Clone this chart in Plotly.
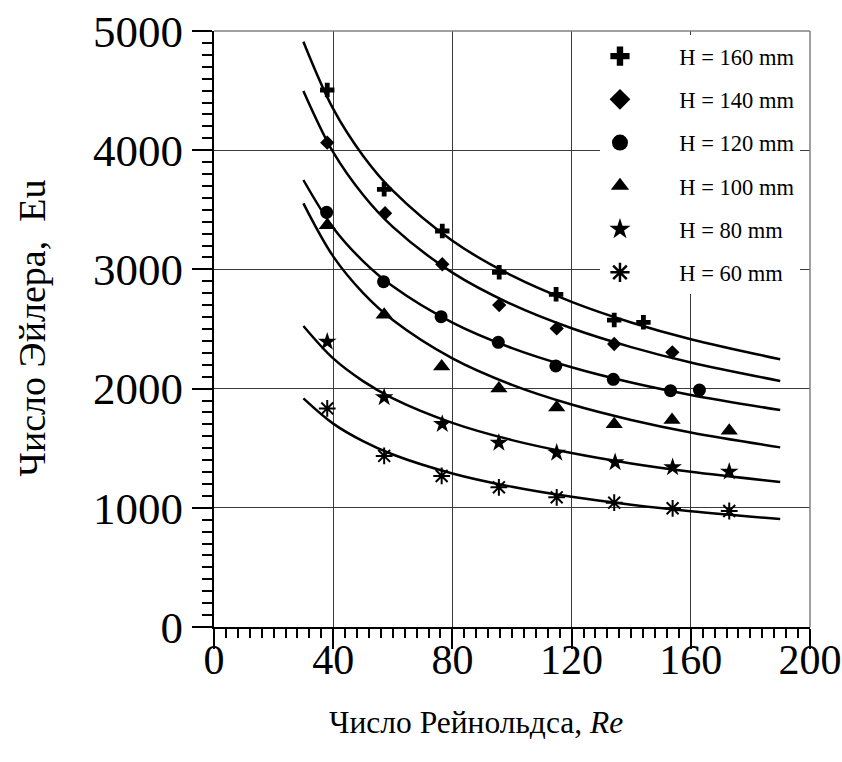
import plotly.graph_objects as go

# Measured points: Reynolds number vs Euler number for each gap height H
re_160 = [38.0, 57.1, 76.6, 95.7, 114.8, 134.3, 144.1]
eu_160 = [4505, 3672, 3322, 2976, 2791, 2575, 2556]

re_140 = [38.0, 57.4, 76.6, 95.7, 115.0, 134.3, 153.8]
eu_140 = [4063, 3471, 3043, 2701, 2505, 2374, 2304]

re_120 = [37.8, 56.9, 76.2, 95.4, 114.7, 134.0, 153.2, 162.9]
eu_120 = [3479, 2897, 2603, 2388, 2190, 2078, 1983, 1988]

re_100 = [38.0, 57.1, 76.4, 95.6, 115.0, 134.3, 153.7, 172.9]
eu_100 = [3370, 2620, 2186, 2000, 1842, 1700, 1736, 1647]

re_80 = [38.0, 57.1, 76.6, 95.6, 115.0, 134.6, 153.9, 172.9]
eu_80 = [2393, 1927, 1703, 1546, 1462, 1381, 1340, 1303]

re_60 = [38.0, 57.1, 76.4, 95.6, 115.0, 134.3, 153.9, 172.9]
eu_60 = [1834, 1435, 1267, 1172, 1088, 1043, 996, 973]

# Approximating curves
fit_re = [30, 40, 50, 60, 80, 100, 120, 140, 160, 190]
fit_160 = [4910, 4346, 3954, 3660, 3240, 2947, 2728, 2555, 2414, 2246]
fit_140 = [4497, 3983, 3626, 3357, 2973, 2706, 2506, 2348, 2219, 2064]
fit_120 = [3750, 3350, 3070, 2858, 2554, 2340, 2179, 2051, 1947, 1820]
fit_100 = [3554, 3109, 2803, 2575, 2253, 2031, 1866, 1737, 1632, 1507]
fit_80 = [2525, 2253, 2063, 1919, 1713, 1568, 1459, 1372, 1302, 1216]
fit_60 = [1918, 1706, 1559, 1447, 1288, 1176, 1092, 1026, 972, 906]

labels = ["H = 160 mm", "H = 140 mm", "H = 120 mm", "H = 100 mm", "H = 80 mm", "H = 60 mm"]
x_ticks = [0, 40, 80, 120, 160, 200]
y_ticks = [0, 1000, 2000, 3000, 4000, 5000]

series = [
    (re_160, eu_160, fit_160, "cross", 12),
    (re_140, eu_140, fit_140, "diamond", 11),
    (re_120, eu_120, fit_120, "circle", 13),
    (re_100, eu_100, fit_100, "triangle-up", 15),
    (re_80, eu_80, fit_80, "star", 14),
    (re_60, eu_60, fit_60, "asterisk-open", 14),
]

SERIF = "Liberation Serif"
fig = go.Figure()

for i, (rx, ey, fy, sym, sz) in enumerate(series):
    fig.add_trace(go.Scatter(
        x=fit_re, y=fy, mode="lines", line=dict(color="black", width=2.5, shape="spline"),
        showlegend=False, hoverinfo="skip"))
    marker = dict(symbol=sym, size=sz, color="black")
    if sym.endswith("open"):
        marker["line"] = dict(color="black", width=2)
    fig.add_trace(go.Scatter(x=rx, y=ey, mode="markers", marker=marker, showlegend=False))

# Legend entries with larger symbols
for i, (rx, ey, fy, sym, sz) in enumerate(series):
    marker = dict(symbol=sym, size=16, color="black")
    if sym.endswith("open"):
        marker["line"] = dict(color="black", width=2.5)
    fig.add_trace(go.Scatter(
        x=[None], y=[None], mode="markers", marker=marker,
        name="\u00a0" * 7 + labels[i], legendgroup=f"g{i}", showlegend=True))

axis_common = dict(
    showline=True, linecolor="black", linewidth=2,
    ticks="outside", ticklen=20, tickwidth=2, tickcolor="black",
    showgrid=True, gridcolor="#3a3a3a", gridwidth=1,
    zeroline=False, automargin=False, ticklabeloverflow="allow",
)

fig.update_xaxes(
    range=[0, 200], tickvals=x_ticks, ticktext=[str(v) for v in x_ticks],
    minor=dict(dtick=4, ticks="outside", ticklen=9, tickwidth=1.5, tickcolor="black", showgrid=False),
    ticklabelstandoff=-25,
    tickfont=dict(family=SERIF, size=42, color="black"),
    **axis_common)
fig.update_yaxes(
    range=[0, 5000], tickvals=y_ticks, ticktext=[str(v) for v in y_ticks],
    minor=dict(dtick=100, ticks="outside", ticklen=10, tickwidth=1.5, tickcolor="black", showgrid=False),
    ticklabelstandoff=0,
    tickfont=dict(family=SERIF, size=45, color="black"),
    **axis_common)

# Thin frame on the top and right sides
fig.add_shape(type="line", xref="paper", yref="paper", x0=0, x1=1, y0=1, y1=1,
              line=dict(color="#808080", width=1.5))
fig.add_shape(type="line", xref="paper", yref="paper", x0=1, x1=1, y0=0, y1=1,
              line=dict(color="#808080", width=1.5))

fig.add_annotation(text="Число Эйлера,  Eu", xref="paper", yref="paper",
                   x=-0.3054, y=0.502, textangle=-90, showarrow=False,
                   xanchor="center", yanchor="middle",
                   font=dict(family=SERIF, size=38, color="black"))
fig.add_annotation(text="Число Рейнольдса, <i>Re</i>", xref="paper", yref="paper",
                   x=0.4396, y=-0.1594, showarrow=False,
                   xanchor="center", yanchor="middle",
                   font=dict(family=SERIF, size=31.5, color="black"))

fig.update_layout(
    width=842, height=762,
    margin=dict(l=214, r=32, t=31, b=135),
    plot_bgcolor="white", paper_bgcolor="white",
    legend=dict(x=0.6476, y=0.9933, xanchor="left", yanchor="top",
                bgcolor="white", borderwidth=0,
                traceorder="grouped", tracegroupgap=11,
                font=dict(family=SERIF, size=22.5, color="black")),
)

fig.write_html("out.html")
